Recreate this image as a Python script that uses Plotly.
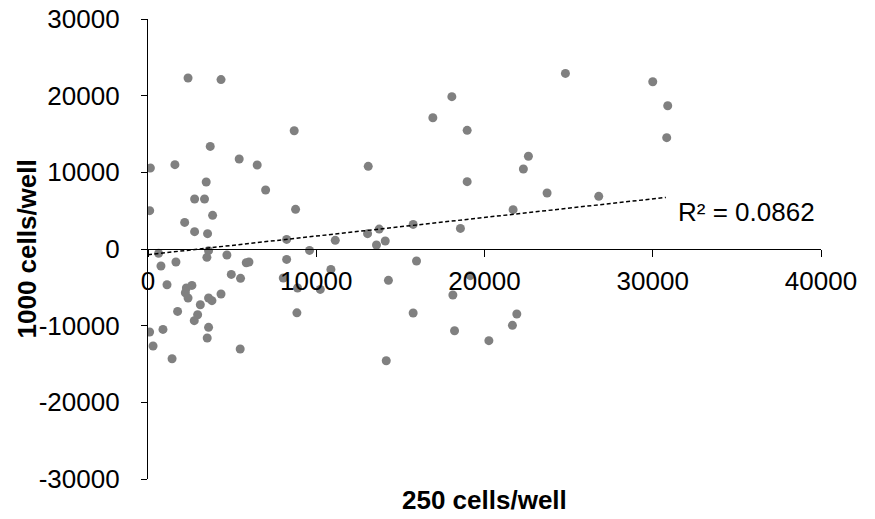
import numpy as np
import plotly.graph_objects as go

# 250 cells/well (x) vs 1000 cells/well (y)
x_250 = [2380, 4340, 8690, 3700, 140, 1600, 5420, 6490, 3460, 6990,
         100, 8770, 2770, 3360, 3840, 2180, 2770, 3540, 8240, 630,
         3600, 3500, 4690, 8240, 770, 1660, 5840, 6000, 4950, 5500,
         1130, 2610, 2280, 2220, 2380, 4340, 3600, 3800, 3110, 1760,
         2950, 2750, 95, 890, 3600, 300, 3520, 5480, 1430, 8850,
         8890, 8040, 13090, 16930, 18060, 18970, 18970, 22610, 22310, 23720,
         21700, 11130, 13050, 13740, 13580, 14100, 15760, 18570, 9600, 10240,
         10870, 14290, 15960, 15760, 14160, 18120, 19150, 18220, 20260, 21920,
         21660, 24810, 30000, 30890, 30830, 26790]
y_1000 = [22300, 22100, 15430, 13380, 10560, 11000, 11740, 10960, 8740, 7700,
          5000, 5170, 6520, 6520, 4390, 3470, 2260, 2000, 1250, -570,
          -220, -1090, -780, -1360, -2220, -1700, -1800, -1700, -3310, -3830,
          -4660, -4750, -5090, -5700, -6390, -5870, -6390, -6740, -7270, -8140,
          -8570, -9350, -10830, -10490, -10220, -12650, -11610, -13040, -14310, -8330,
          -5090, -3780, 10780, 17120, 19870, 15480, 8780, 12100, 10430, 7300,
          5130, 1130, 2000, 2600, 520, 1040, 3210, 2690, -180, -5270,
          -2660, -4090, -1570, -8350, -14570, -6000, -3480, -10660, -11960, -8480,
          -9960, 22900, 21820, 18690, 14520, 6870]

# linear trendline (Excel trendline, R² = 0.0862)
trend_intercept = -740
trend_slope = 0.2427
trend_x_range = [0, 30780]

x_ticks = [0, 10000, 20000, 30000, 40000]
y_ticks = [-30000, -20000, -10000, 0, 10000, 20000, 30000]
r2_label = "R² = 0.0862"
x_title = "250 cells/well"
y_title = "1000 cells/well"

fit_x = np.array(trend_x_range, dtype=float)
fit_y = trend_intercept + trend_slope * fit_x

FONT = "Liberation Sans, Arial, sans-serif"

fig = go.Figure()
fig.add_trace(go.Scatter(
    x=x_250, y=y_1000, mode="markers",
    marker=dict(color="#808080", size=9, line=dict(width=0)),
    showlegend=False, hoverinfo="skip"))
fig.add_trace(go.Scatter(
    x=fit_x, y=fit_y, mode="lines",
    line=dict(color="black", width=1.5, dash="4px,2.5px"),
    showlegend=False, hoverinfo="skip"))

fig.update_layout(
    width=875, height=519,
    margin=dict(l=148, r=54, t=19, b=40),
    paper_bgcolor="white", plot_bgcolor="white",
    font=dict(family=FONT, size=26, color="black"),
    xaxis=dict(range=[0, 40000], tickvals=x_ticks, ticktext=[str(v) for v in x_ticks],
               showgrid=False, zeroline=False, showline=True, linecolor="black",
               linewidth=1.3, ticks="outside", ticklen=7, tickcolor="black", tickwidth=1.3,
               anchor="free", position=0.5, automargin=False, ticklabelstandoff=2,
               tickfont=dict(size=26, family=FONT)),
    yaxis=dict(range=[-30000, 30000], tickvals=y_ticks, ticktext=[str(v) for v in y_ticks],
               showgrid=False, zeroline=False, showline=True, linecolor="black",
               linewidth=1.3, ticks="outside", ticklen=6, tickcolor="black", tickwidth=1.3,
               automargin=False, ticklabelstandoff=16,
               tickfont=dict(size=26, family=FONT)),
    annotations=[
        dict(text=r2_label, x=31370, y=4800, xref="x", yref="y",
             xanchor="left", yanchor="middle", showarrow=False,
             font=dict(size=26, family=FONT, color="black")),
        dict(text="<b>" + x_title + "</b>", x=0.5, y=(479 - 500) / 460, xref="paper", yref="paper",
             xanchor="center", yanchor="middle", showarrow=False,
             font=dict(size=26, family=FONT, color="black")),
        dict(text="<b>" + y_title + "</b>", x=(26.5 - 148) / 673, y=0.5, xref="paper", yref="paper",
             xanchor="center", yanchor="middle", showarrow=False, textangle=-90,
             font=dict(size=26, family=FONT, color="black")),
    ],
)

fig.write_html("out.html")
